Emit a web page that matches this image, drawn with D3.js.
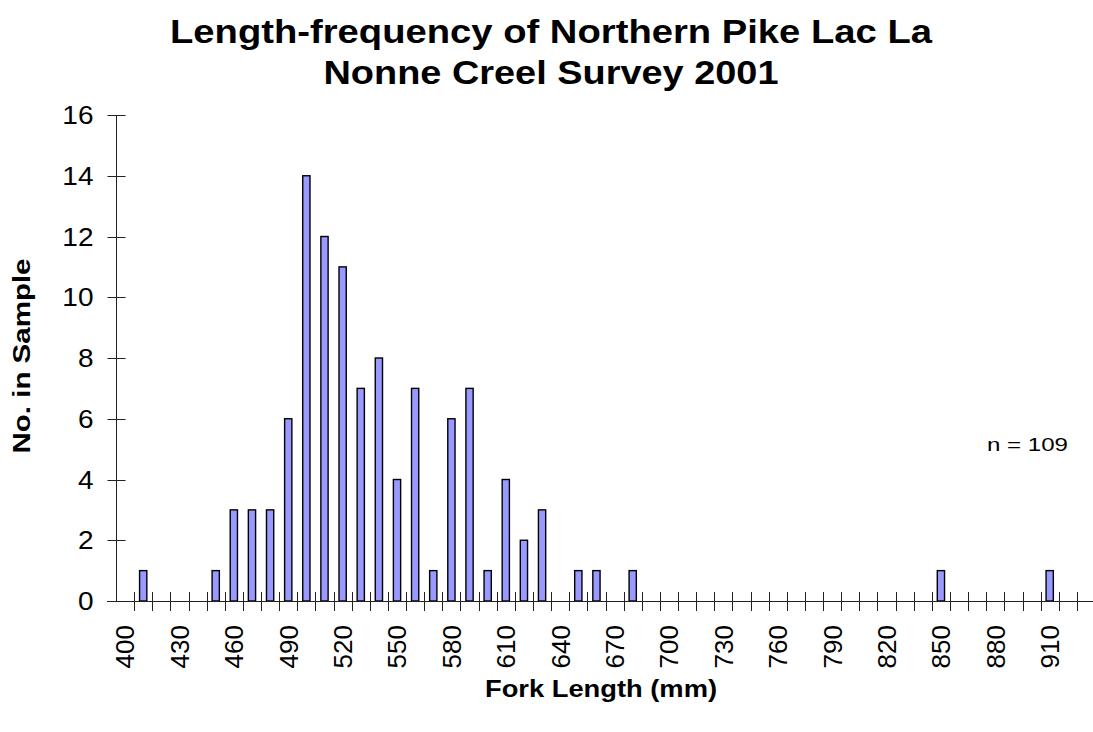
<!DOCTYPE html>
<html>
<head>
<meta charset="utf-8">
<script src="https://cdn.jsdelivr.net/npm/d3@7"></script>
<style>
  html, body { margin: 0; padding: 0; background: #fff; }
  svg { display: block; }
  text { font-family: "Liberation Sans", Arial, Helvetica, sans-serif; fill: #000; }
</style>
</head>
<body>
<svg id="chart" width="1093" height="732"></svg>
<script>
// ---- data ----
const categories = [400,410,420,430,440,450,460,470,480,490,500,510,520,530,540,550,560,570,580,590,
                    600,610,620,630,640,650,660,670,680,690,700,710,720,730,740,750,760,770,780,790,
                    800,810,820,830,840,850,860,870,880,890,900,910,920,930];
const counts     = [0,1,0,0,0,1,3,3,3,6,14,12,11,7,8,4,7,1,6,7,
                    1,4,2,3,0,1,1,0,1,0,0,0,0,0,0,0,0,0,0,0,
                    0,0,0,0,0,1,0,0,0,0,0,1,0,0];
const xTickLabels = [400,430,460,490,520,550,580,610,640,670,700,730,760,790,820,850,880,910];
const yTickValues = [0,2,4,6,8,10,12,14,16];
const titleLines = ["Length-frequency of Northern Pike Lac La", "Nonne Creel Survey 2001"];
const xTitle = "Fork Length (mm)";
const yTitle = "No. in Sample";
const note = "n = 109";

// ---- layout ----
const svg = d3.select("#chart");
const plotLeft = 116, plotTop = 115, plotBottom = 601, step = 18.13;
const x = d3.scaleBand().domain(categories).range([plotLeft, plotLeft + step * categories.length]).padding(0);
const y = d3.scaleLinear().domain([0, 16]).range([plotBottom, plotTop]);
const barW = x.bandwidth() * 0.4;

// bars
svg.append("g").selectAll("rect")
  .data(categories.map((c, i) => ({c, v: counts[i]})).filter(d => d.v > 0))
  .join("rect")
  .attr("x", d => x(d.c) + (x.bandwidth() - barW) / 2)
  .attr("y", d => y(d.v))
  .attr("width", barW)
  .attr("height", d => y(0) - y(d.v))
  .attr("fill", "#9999FF")
  .attr("stroke", "#000")
  .attr("stroke-width", 1.4);

// y axis
const yAxis = svg.append("g").attr("transform", `translate(${plotLeft + 0.5},0)`);
yAxis.append("line").attr("x1", 0).attr("x2", 0).attr("y1", y(16)).attr("y2", y(0)).attr("stroke", "#222");
yAxis.selectAll("line.tk").data(yTickValues).join("line").attr("class", "tk")
  .attr("x1", -9).attr("x2", 9).attr("y1", d => Math.round(y(d)) + 0.5).attr("y2", d => Math.round(y(d)) + 0.5)
  .attr("stroke", "#222");
yAxis.selectAll("text").data(yTickValues).join("text")
  .attr("transform", d => `translate(-23,${y(d)}) scale(1.12,1)`)
  .attr("text-anchor", "end").attr("dy", "0.36em")
  .style("font-size", "25px")
  .text(d => d);

// x axis
const xAxis = svg.append("g");
xAxis.append("line").attr("x1", plotLeft - 9).attr("x2", 1093).attr("y1", plotBottom + 0.5).attr("y2", plotBottom + 0.5).attr("stroke", "#222");
const boundaries = categories.map(c => x(c)).concat([x(categories[categories.length - 1]) + x.bandwidth()]);
xAxis.selectAll("line.tk").data(boundaries.slice(1)).join("line").attr("class", "tk")
  .attr("x1", d => Math.round(d) + 0.5).attr("x2", d => Math.round(d) + 0.5)
  .attr("y1", plotBottom - 9).attr("y2", plotBottom + 10)
  .attr("stroke", "#222");
xAxis.selectAll("text").data(xTickLabels).join("text")
  .attr("transform", d => `translate(${x(d) + x.bandwidth() / 2},${625}) rotate(-90)`)
  .attr("text-anchor", "end").attr("dy", "0.36em")
  .style("font-size", "26px")
  .text(d => d);

// titles
svg.selectAll("text.title").data(titleLines).join("text").attr("class", "title")
  .attr("x", 551).attr("y", (d, i) => 43 + i * 41)
  .attr("text-anchor", "middle")
  .attr("textLength", (d, i) => [762, 455][i]).attr("lengthAdjust", "spacingAndGlyphs")
  .style("font-size", "34px").style("font-weight", "bold")
  .text(d => d);

svg.append("text")
  .attr("x", 601).attr("y", 697)
  .attr("text-anchor", "middle")
  .attr("textLength", 232).attr("lengthAdjust", "spacingAndGlyphs")
  .style("font-size", "24px").style("font-weight", "bold")
  .text(xTitle);

svg.append("text")
  .attr("transform", "translate(30,356) rotate(-90)")
  .attr("text-anchor", "middle")
  .attr("textLength", 195).attr("lengthAdjust", "spacingAndGlyphs")
  .style("font-size", "23px").style("font-weight", "bold")
  .text(yTitle);

svg.append("text")
  .attr("x", 987).attr("y", 451)
  .attr("textLength", 81).attr("lengthAdjust", "spacingAndGlyphs")
  .style("font-size", "19px")
  .text(note);
</script>
</body>
</html>
